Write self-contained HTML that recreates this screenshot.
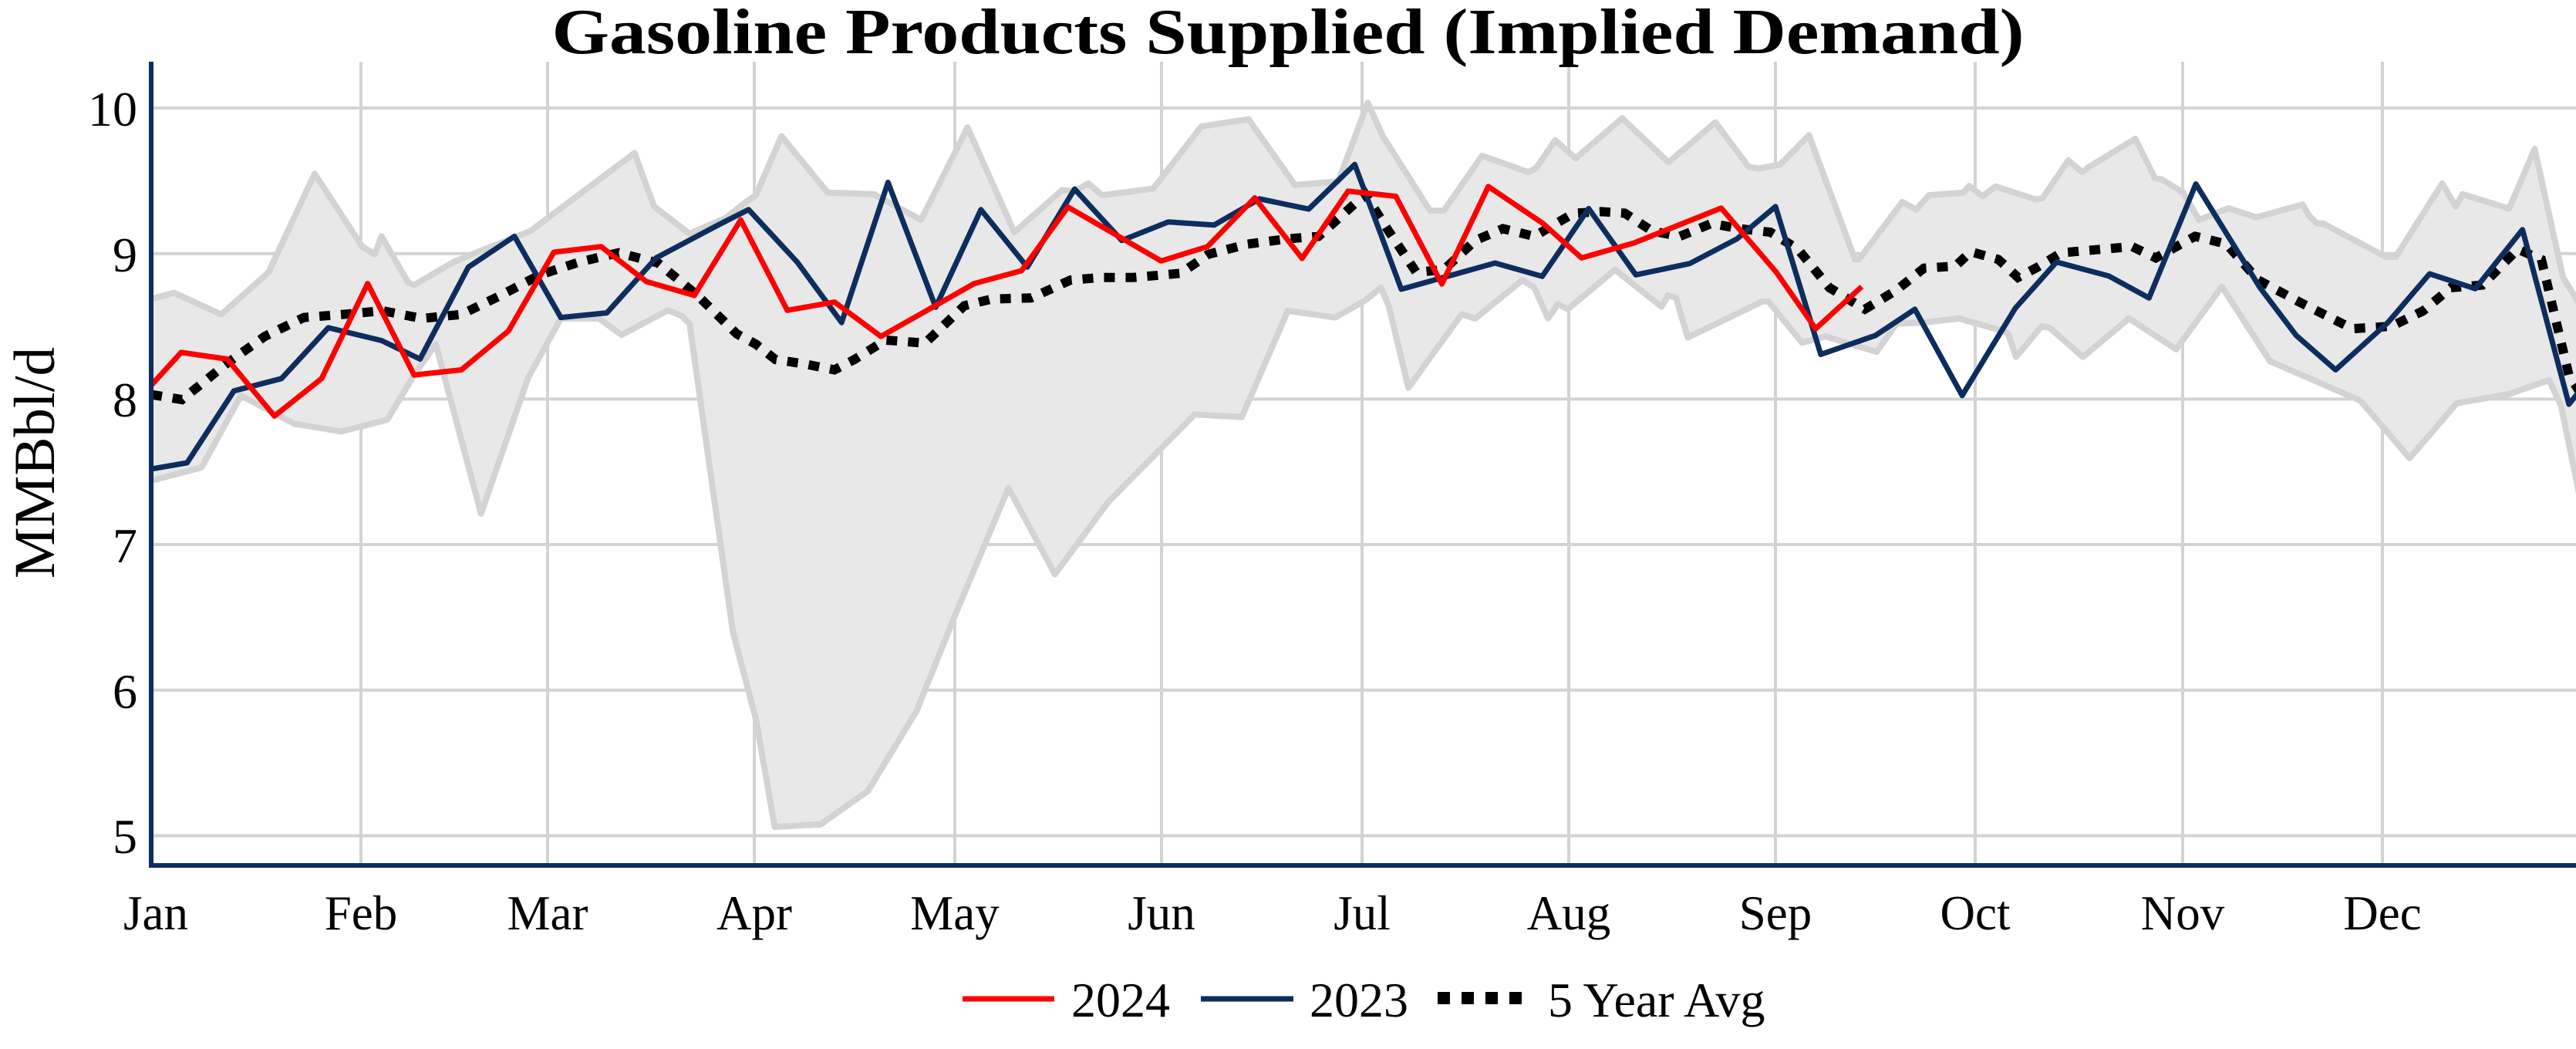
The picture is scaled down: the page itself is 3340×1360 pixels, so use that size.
<!DOCTYPE html>
<html><head><meta charset="utf-8">
<style>
html,body{margin:0;padding:0;background:#fff;}
svg{display:block;}
text{font-family:"Liberation Serif","DejaVu Serif",serif;fill:#000;}
</style></head>
<body>
<svg id="c" xmlns="http://www.w3.org/2000/svg" width="3340" height="1360" viewBox="0 0 3340 1360">
<defs><clipPath id="pc"><rect x="196" y="80" width="3144" height="1042"/></clipPath></defs>
<g id="grid" stroke="#d3d3d3" stroke-width="4">
<line x1="196" y1="140" x2="3340" y2="140"/>
<line x1="196" y1="328.7" x2="3340" y2="328.7"/>
<line x1="196" y1="517.4" x2="3340" y2="517.4"/>
<line x1="196" y1="706" x2="3340" y2="706"/>
<line x1="196" y1="894.8" x2="3340" y2="894.8"/>
<line x1="196" y1="1083.5" x2="3340" y2="1083.5"/>
<line x1="468" y1="80" x2="468" y2="1122"/>
<line x1="710" y1="80" x2="710" y2="1122"/>
<line x1="978" y1="80" x2="978" y2="1122"/>
<line x1="1238" y1="80" x2="1238" y2="1122"/>
<line x1="1506" y1="80" x2="1506" y2="1122"/>
<line x1="1766" y1="80" x2="1766" y2="1122"/>
<line x1="2034" y1="80" x2="2034" y2="1122"/>
<line x1="2302" y1="80" x2="2302" y2="1122"/>
<line x1="2561" y1="80" x2="2561" y2="1122"/>
<line x1="2830" y1="80" x2="2830" y2="1122"/>
<line x1="3089" y1="80" x2="3089" y2="1122"/>
</g>
<g clip-path="url(#pc)">
<polygon id="band" fill="#e8e8e8" stroke="none"/>
<polyline id="up" fill="none" stroke="#d3d3d3" stroke-width="8" stroke-linejoin="round"/>
<polyline id="lo" fill="none" stroke="#d3d3d3" stroke-width="8" stroke-linejoin="round"/>
<polyline id="avg" fill="none" stroke="#000" stroke-width="12" stroke-dasharray="14 14"/>
<polyline id="nv" fill="none" stroke="#0c2d5e" stroke-width="7" stroke-linejoin="round"/>
<polyline id="rd" fill="none" stroke="#ff0000" stroke-width="7" stroke-linejoin="round"/>
</g>
<line x1="196" y1="80" x2="196" y2="1125" stroke="#0c2d5e" stroke-width="6"/>
<line x1="193" y1="1122" x2="3340" y2="1122" stroke="#0c2d5e" stroke-width="6"/>
<text x="1670" y="69" font-size="84" font-weight="bold" text-anchor="middle" textLength="1909" lengthAdjust="spacingAndGlyphs">Gasoline Products Supplied (Implied Demand)</text>
<g font-size="64" text-anchor="end">
<text x="178" y="163">10</text>
<text x="178" y="352">9</text>
<text x="178" y="540">8</text>
<text x="178" y="729">7</text>
<text x="178" y="918">6</text>
<text x="178" y="1106">5</text>
</g>
<g font-size="63" text-anchor="middle">
<text x="202" y="1205">Jan</text>
<text x="468" y="1205">Feb</text>
<text x="710" y="1205">Mar</text>
<text x="978" y="1205">Apr</text>
<text x="1238" y="1205">May</text>
<text x="1506" y="1205">Jun</text>
<text x="1766" y="1205">Jul</text>
<text x="2034" y="1205">Aug</text>
<text x="2302" y="1205">Sep</text>
<text x="2561" y="1205">Oct</text>
<text x="2830" y="1205">Nov</text>
<text x="3089" y="1205">Dec</text>
</g>
<text transform="translate(70,600) rotate(-90)" font-size="75" text-anchor="middle">MMBbl/d</text>
<line x1="1248" y1="1295" x2="1367" y2="1295" stroke="#ff0000" stroke-width="7"/>
<text x="1389" y="1318" font-size="64">2024</text>
<line x1="1557" y1="1295" x2="1677" y2="1295" stroke="#0c2d5e" stroke-width="7"/>
<text x="1698" y="1318" font-size="64">2023</text>
<line x1="1864" y1="1294" x2="1978" y2="1294" stroke="#000" stroke-width="16" stroke-dasharray="16 15"/>
<text x="2007" y="1318" font-size="64">5 Year Avg</text>
</svg>
<script>
(function(){
var OFF=[0,1548.4,3096.8,4606];
function conv(panels){
  var out=[];
  for(var p=0;p<panels.length;p++){
    var arr=panels[p];
    for(var i=0;i<arr.length;i+=2){
      var gx=OFF[p]+arr[i];
      var X=190+gx/1.96, Y=100+arr[i+1]/1.502;
      if(out.length && X<=out[out.length-1][0]+0.5) continue;
      out.push([X,Y]);
    }
  }
  return out;
}
function str(a){return a.map(function(q){return q[0].toFixed(1)+","+q[1].toFixed(1);}).join(" ");}
var red=conv([
[12,600,88,536,205,549,325,660,445,587,562,402,680,580,800,570,920,494,1035,341,1155,330,1270,398,1392,425,1510,278],
[80,454,200,438,318,505,440,452,555,402,675,377,793,253,1030,358,1148,330,1268,235,1388,353,1505,222],
[78,232,195,403,313,213,452,285,550,352,683,323,905,255,1045,380,1145,490,1262,408]]);
var navy=conv([
[12,763,103,751,222,611,343,587,462,488,597,513,695,549,818,370,935,310,1053,468,1170,459,1295,352,1455,287,1530,258],
[105,360,218,478,336,205,457,448,572,258,690,370,810,218,930,318,1048,282,1165,288,1280,237,1405,257,1522,170],
[92,413,330,362,450,388,568,256,688,385,825,363,945,315,1043,252,1158,540,1297,503,1397,452],
[8,620,143,450,248,360,380,387,483,430,602,208,765,410,857,503,957,570,1090,478,1196,383,1312,412,1432,297,1550,637,1600,590]]);
var avg=conv([
[12,618,90,628,200,560,300,505,400,468,500,462,600,455,700,470,800,462,900,425,1000,385,1100,360,1200,342,1300,362,1400,425,1500,500],
[0,520,50,550,120,558,200,570,250,550,330,512,430,518,530,445,600,432,700,430,800,395,880,390,960,390,1080,382,1150,345,1250,325,1350,315,1430,310,1500,262],
[0,228,60,300,130,380,200,375,280,318,350,295,430,310,530,265,600,262,660,265,730,300,800,310,880,285,950,295,1030,302,1100,335,1180,410,1270,452,1350,415,1420,372,1500,368],
[30,340,100,355,150,390,200,370,260,342,440,330,500,352,600,310,680,325,760,395,870,440,1000,490,1100,485,1180,455,1250,410,1330,405,1420,335,1480,355,1550,580,1600,640]]);
var up=conv([
[12,432,70,420,190,462,310,380,427,188,548,330,580,345,597,310,665,400,680,405,780,360,850,338,975,300,1240,148,1290,252,1380,305,1470,275,1520,245],
[0,230,65,115,183,225,300,228,420,278,538,98,657,302,778,220,810,222,845,207,880,230,1010,217,1132,96,1252,82,1370,210,1480,203,1555,50],
[45,115,165,260,200,260,297,153,415,185,435,177,483,123,535,158,653,80,771,166,890,88,975,175,1000,178,1055,170,1128,113,1245,355,1255,355,1365,243,1400,258,1433,230,1520,225,1535,212],
[60,232,93,213,195,238,212,236,278,162,313,185,330,175,448,120,498,197,515,199,570,225,610,278,685,255,755,273,873,248,890,270,910,285,925,285,1085,350,1110,350,1228,207,1262,252,1280,228,1398,256,1463,140,1535,390,1600,470]]);
var lo=conv([
[12,786,140,760,240,620,375,675,495,690,612,667,680,580,735,520,850,850,970,585,1053,470,1150,470,1207,502,1325,454,1360,465,1380,480,1490,1080],
[0,1250,48,1460,165,1455,285,1390,408,1235,505,1050,642,800,760,968,895,828,1115,657,1235,662,1352,455,1472,468],
[0,435,40,410,60,445,110,605,245,462,280,470,400,395,430,410,465,470,490,442,515,452,635,375,753,447,770,425,790,430,820,507,1010,437,1025,437,1110,517,1170,505,1300,535,1350,480,1420,478],
[0,470,115,495,125,500,145,545,210,485,230,488,315,545,432,470,552,530,668,408,790,553,1020,630,1145,742,1265,635,1398,617,1500,590,1530,640,1565,770,1600,900]]);
function set(id,a){document.getElementById(id).setAttribute("points",str(a));}
set("rd",red);set("nv",navy);set("avg",avg);set("up",up);set("lo",lo);
set("band",up.concat(lo.slice().reverse()));
})();
</script>
</body></html>
